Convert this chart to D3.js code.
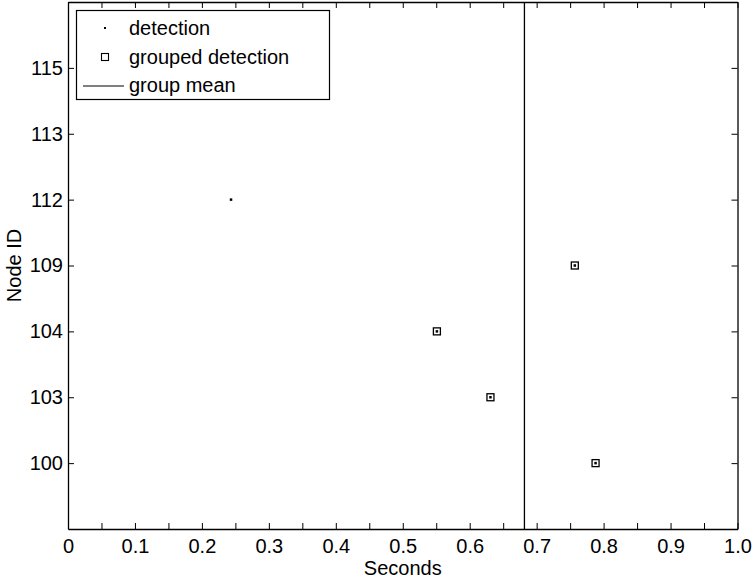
<!DOCTYPE html>
<html>
<head>
<meta charset="utf-8">
<script src="https://d3js.org/d3.v7.min.js"></script>
<style>
  body { margin: 0; background: #fff; }
  text { font-family: "Liberation Sans", Arial, Helvetica, sans-serif; fill: #000; }
</style>
</head>
<body>
<svg id="chart" width="753" height="581"></svg>
<script>
// Node IDs shown on the vertical axis (ordinal, evenly spaced)
const nodeIds = [100, 103, 104, 109, 112, 113, 115];

// Single (ungrouped) detection
const detectionTimes = [0.2435];
const detectionNodes = [112];

// Detections belonging to the group
const groupedTimes = [0.551, 0.631, 0.757, 0.788];
const groupedNodes = [104, 103, 109, 100];

const xTickLabels = [0, 0.1, 0.2, 0.3, 0.4, 0.5, 0.6, 0.7, 0.8, 0.9, 1.0];

const FONT = 20;
const margin = { left: 68, right: 753 - 737.5, top: 2, bottom: 581 - 529 };
const W = 753, H = 581;
const svg = d3.select("#chart");

const x = d3.scaleLinear().domain([0, 1]).range([margin.left, W - margin.right]);
// each node ID occupies an integer slot 1..n; one empty slot of padding on either side
const y = d3.scaleLinear().domain([0, nodeIds.length + 1]).range([H - margin.bottom, margin.top]);
const yOf = id => y(nodeIds.indexOf(id) + 1);

const g = svg.append("g");

// Boxed axes with inward ticks on all four sides
const xMinor = d3.range(0, 1.0001, 0.05).map(v => +v.toFixed(2));
const fmtX = v => (v === 0 ? "0" : v === 1 ? "1.0" : d3.format(".1f")(v));

const xAxisB = d3.axisBottom(x).tickValues(xMinor).tickSizeInner(-6).tickSizeOuter(0)
  .tickFormat(v => xTickLabels.some(t => Math.abs(t - v) < 1e-9) ? fmtX(v) : "");
const xAxisT = d3.axisTop(x).tickValues(xMinor).tickSizeInner(-6).tickSizeOuter(0).tickFormat("");
const yPos = nodeIds.map((d, i) => i + 1);
const yAxisL = d3.axisLeft(y).tickValues(yPos).tickSizeInner(-6).tickSizeOuter(0)
  .tickFormat(i => nodeIds[i - 1]);
const yAxisR = d3.axisRight(y).tickValues(yPos).tickSizeInner(-6).tickSizeOuter(0).tickFormat("");

function styleAxis(sel) {
  sel.selectAll("path").attr("stroke", "#000").attr("stroke-width", 1.3);
  sel.selectAll("line").attr("stroke", "#000").attr("stroke-width", 1);
  sel.selectAll("text").attr("font-size", FONT).attr("font-family", "Liberation Sans, Arial, sans-serif");
}

g.append("g").attr("transform", `translate(0,${H - margin.bottom})`).call(xAxisB).call(styleAxis)
  .selectAll("text").attr("y", 24).attr("dy", 0);
g.append("g").attr("transform", `translate(0,${margin.top})`).call(xAxisT).call(styleAxis);
g.append("g").attr("transform", `translate(${margin.left},0)`).call(yAxisL).call(styleAxis)
  .selectAll("text").attr("x", -5);
g.append("g").attr("transform", `translate(${W - margin.right},0)`).call(yAxisR).call(styleAxis);

// Axis titles
svg.append("text").attr("x", (x(0) + x(1)) / 2).attr("y", 575)
  .attr("text-anchor", "middle").attr("font-size", FONT).text("Seconds");
svg.append("text").attr("transform", `translate(21,${(y(0) + y(nodeIds.length + 1)) / 2}) rotate(-90)`)
  .attr("text-anchor", "middle").attr("font-size", FONT).text("Node ID");

// Group mean line
const groupMean = d3.mean(groupedTimes);
g.append("line")
  .attr("x1", x(groupMean)).attr("x2", x(groupMean))
  .attr("y1", y(0)).attr("y2", y(nodeIds.length + 1))
  .attr("stroke", "#000").attr("stroke-width", 1.3);

// Detection dots (every detection, grouped ones included)
const allTimes = detectionTimes.concat(groupedTimes);
const allNodes = detectionNodes.concat(groupedNodes);
g.selectAll("rect.dot").data(allTimes).join("rect").attr("class", "dot")
  .attr("x", d => x(d) - 1.25).attr("y", (d, i) => yOf(allNodes[i]) - 1.25)
  .attr("width", 2.5).attr("height", 2.5).attr("fill", "#000");

// Grouped detection squares
g.selectAll("rect.grp").data(groupedTimes).join("rect").attr("class", "grp")
  .attr("x", d => x(d) - 3.5).attr("y", (d, i) => yOf(groupedNodes[i]) - 3.5)
  .attr("width", 7).attr("height", 7)
  .attr("fill", "none").attr("stroke", "#000").attr("stroke-width", 1.3);

// Legend
const lg = svg.append("g");
lg.append("rect").attr("x", 76.5).attr("y", 10.5).attr("width", 253).attr("height", 89)
  .attr("fill", "#fff").attr("stroke", "#000").attr("stroke-width", 1.2);
lg.append("rect").attr("x", 104).attr("y", 27).attr("width", 2).attr("height", 2).attr("fill", "#000");
lg.append("rect").attr("x", 101.5).attr("y", 53.5).attr("width", 7).attr("height", 7)
  .attr("fill", "none").attr("stroke", "#000").attr("stroke-width", 1.1);
lg.append("line").attr("x1", 83).attr("x2", 124).attr("y1", 86).attr("y2", 86)
  .attr("stroke", "#000").attr("stroke-width", 1.2);
const labels = ["detection", "grouped detection", "group mean"];
labels.forEach((t, i) => {
  lg.append("text").attr("x", 129).attr("y", 35 + i * 28.5).attr("font-size", FONT).text(t);
});
</script>
</body>
</html>
